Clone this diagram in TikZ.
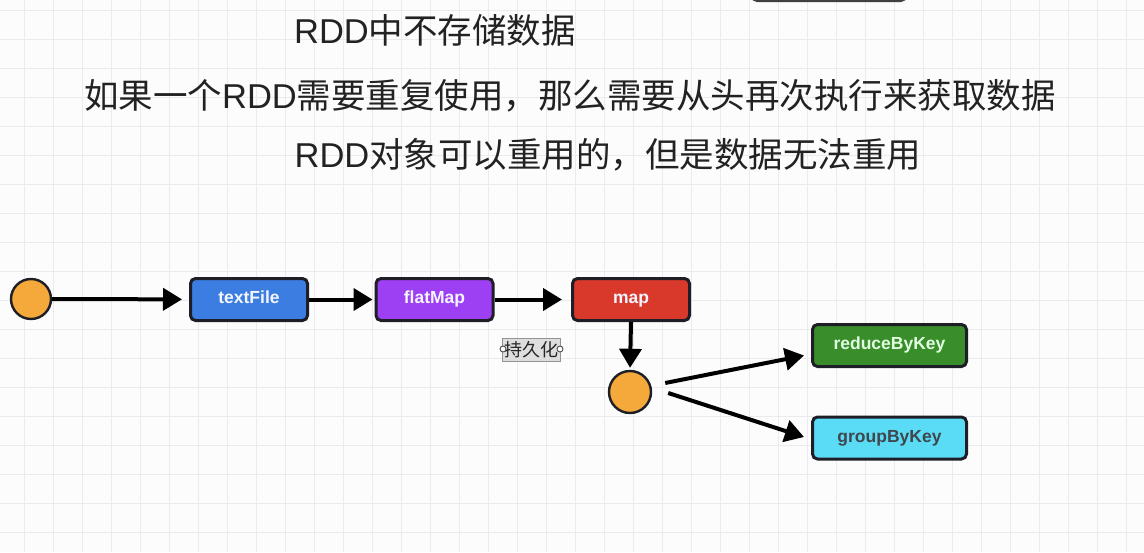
\documentclass[tikz,border=0pt]{standalone}
\usepackage{fontspec}
\setmainfont{Liberation Sans}
\newfontfamily\cjk{Noto Sans CJK SC}
\usetikzlibrary{arrows.meta,calc}
\definecolor{gridc}{HTML}{EAEAEF}
\definecolor{orangec}{HTML}{F4A93A}
\definecolor{darkc}{HTML}{1E1E26}
\definecolor{bluec}{HTML}{3B7DE0}
\definecolor{purplec}{HTML}{9D3FF3}
\definecolor{redc}{HTML}{D8392A}
\definecolor{greenc}{HTML}{3A8D2B}
\definecolor{cyanc}{HTML}{5BDCF6}
\definecolor{titlec}{HTML}{222222}
\begin{document}
\begin{tikzpicture}[x=1pt,y=-1pt,
  gridline/.style={draw=gridc,line width=1pt},
  titletext/.style={font=\fontsize{34.5}{40}\selectfont,text=titlec,inner sep=0pt},
  dot/.style={circle,draw=darkc,fill=orangec,line width=2.4pt,minimum size=40pt,inner sep=0pt},
  opbox/.style={rectangle,rounded corners=5pt,draw=darkc,line width=3pt,minimum width=117pt,minimum height=42pt,inner sep=0pt,text height=0.85em,text depth=0pt,font=\fontsize{17.5}{19}\selectfont\bfseries,text=blue!4!white},
  widebox/.style={opbox,minimum width=154pt},
  arr/.style={line width=4pt,draw=black,-{Triangle[length=19pt,width=22pt]}},
  tagbox/.style={rectangle,draw=gray!85,fill=black!13,line width=1pt,minimum width=58pt,minimum height=23pt,inner sep=0pt,font=\cjk\fontsize{18}{20}\selectfont,text=black!85},
  handle/.style={circle,draw=black!70,fill=white,line width=0.9pt,minimum size=6pt,inner sep=0pt}
]
\useasboundingbox (0,0) rectangle (1144,552);
\clip (0,0) rectangle (1144,552);
\fill[white!98!gray] (0,0) rectangle (1144,552);
\foreach \gx in {-5,24,...,1150} \draw[gridline] (\gx,0) -- (\gx,552);
\foreach \gy in {10,39,...,560} \draw[gridline] (0,\gy) -- (1144,\gy);

% partial box at the top edge
\draw[draw=black!75,line width=2pt,rounded corners=5pt,fill=white] (752,-40) rectangle (906,1);

% titles
\node[titletext,anchor=base] (l1) at (435,43) {RDD{\cjk 中不存储数据}};
\node[titletext,anchor=base] (l2) at (570,108) {{\cjk 如果一个}RDD{\cjk 需要重复使用，那么需要从头再次执行来获取数据}};
\node[titletext,anchor=base] (l3) at (608,167) {RDD{\cjk 对象可以重用的，但是数据无法重用}};

% nodes
\node[dot] (c1) at (31,299) {};
\node[opbox,fill=bluec] (tf) at (249,299.5) {textFile};
\node[opbox,fill=purplec] (fm) at (434.5,299.5) {flatMap};
\node[opbox,fill=redc] (mp) at (631,299.5) {map};
\node[dot,minimum size=42pt] (c2) at (630,392) {};
\node[widebox,fill=greenc,text=green!12!white] (rb) at (889.5,345.5) {reduceByKey};
\node[widebox,fill=cyanc,text=cyan!20!black] (gb) at (889.5,438) {groupByKey};

\node[tagbox] (tag) at (531.5,350) {持久化};
\node[handle] (h1) at ($(tag.west)+(1,-1)$) {};
\node[handle] (h2) at ($(tag.east)+(-1,-1)$) {};

% connectors
\draw[arr,shorten >=7pt] (c1) -- (tf);
\draw[arr,shorten >=2pt] (tf) -- (fm);
\draw[arr,shorten >=9pt] (fm) -- (mp);
\draw[arr,shorten >=2pt] (mp.south) -- (c2.north);
\draw[arr] ($(c2.east)+(13,-9)$) -- ($(rb.west)+(-7,10)$);
\draw[arr] ($(c2.east)+(16,1)$) -- ($(gb.west)+(-7,-1)$);
\end{tikzpicture}
\end{document}
